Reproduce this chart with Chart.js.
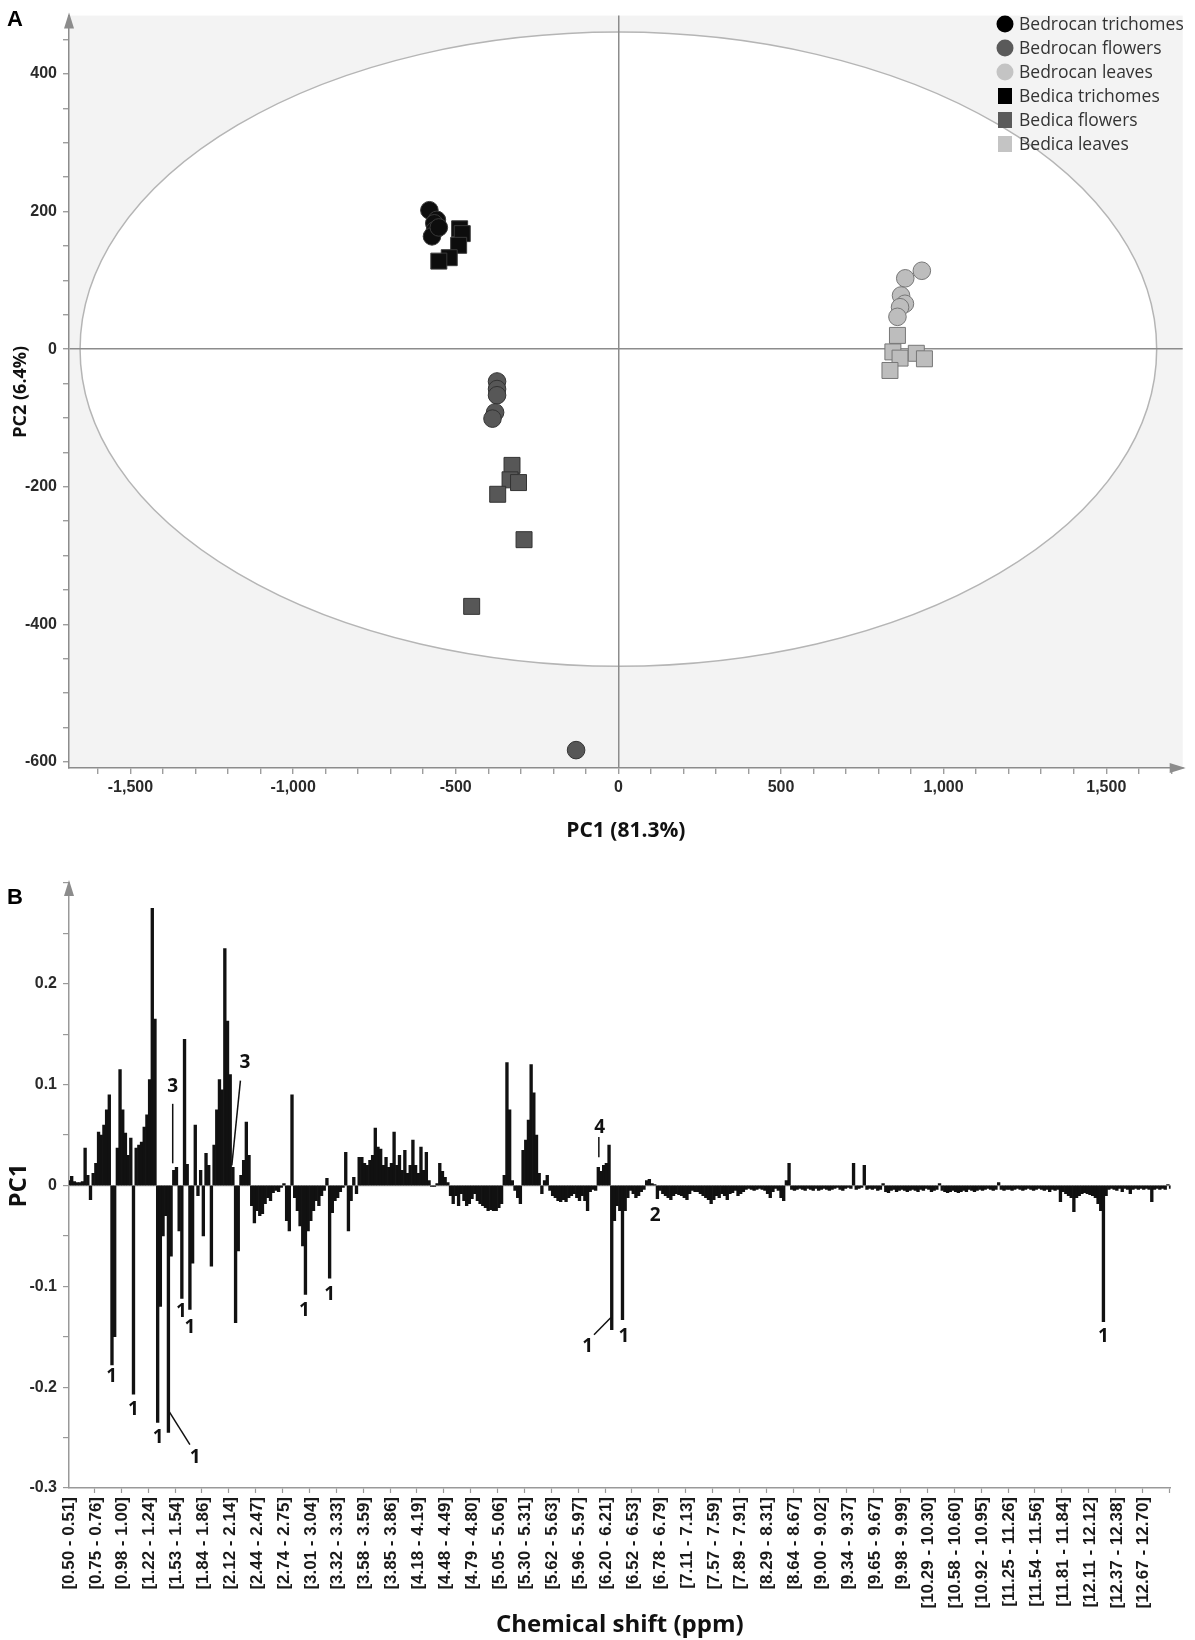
<!DOCTYPE html>
<html lang="en">
<head>
<meta charset="utf-8" />
<title>PCA scores and PC1 loadings</title>
<script src="https://cdn.jsdelivr.net/npm/chart.js@4.4.1/dist/chart.umd.min.js"></script>
<style>
  body { margin: 0; background: #fff; }
  #wrap { position: relative; width: 1195px; height: 1640px; }
  canvas { position: absolute; left: 0; }
  .panel { position: absolute; left: 7px; font: bold 22px "Liberation Sans", Arial, sans-serif; color: #000; }
</style>
</head>
<body>
<div id="wrap">
  <canvas id="scores" width="1195" height="850" style="top:0"></canvas>
  <canvas id="loadings" width="1195" height="790" style="top:850px"></canvas>
  <div class="panel" style="top:6px">A</div>
  <div class="panel" style="top:884px">B</div>
</div>

<script>
// ---------- panel A : scores (PC1, PC2) ----------
const bedrocanTrichomes = [[-581, 202], [-558, 188], [-566, 183], [-564, 173], [-573, 164], [-552, 177]];
const bedrocanFlowers = [[-373, -47], [-373, -58], [-373, -67], [-379, -92], [-387, -101], [-130, -583]];
const bedrocanLeaves = [[933, 114], [882, 103], [869, 78], [881, 66], [866, 61], [858, 47]];
const bedicaTrichomes = [[-488, 175], [-480, 168], [-491, 151], [-520, 133], [-552, 128]];
const bedicaFlowers = [[-327, -169], [-333, -190], [-307, -194], [-371, -211], [-290, -277], [-451, -374]];
const bedicaLeaves = [[858, 20], [844, -4], [866, -13], [835, -31], [916, -6], [941, -14]];
const ellipseRadii = [1655, 461];   // Hotelling T2 ellipse, PC1 / PC2 half axes

// ---------- panel B : PC1 loadings per bucket ----------
const shiftLabels = [
  '[0.50 - 0.51]', '[0.75 - 0.76]', '[0.98 - 1.00]', '[1.22 - 1.24]', '[1.53 - 1.54]',
  '[1.84 - 1.86]', '[2.12 - 2.14]', '[2.44 - 2.47]', '[2.74 - 2.75]', '[3.01 - 3.04]',
  '[3.32 - 3.33]', '[3.58 - 3.59]', '[3.85 - 3.86]', '[4.18 - 4.19]', '[4.48 - 4.49]',
  '[4.79 - 4.80]', '[5.05 - 5.06]', '[5.30 - 5.31]', '[5.62 - 5.63]', '[5.96 - 5.97]',
  '[6.20 - 6.21]', '[6.52 - 6.53]', '[6.78 - 6.79]', '[7.11 - 7.13]', '[7.57 - 7.59]',
  '[7.89 - 7.91]', '[8.29 - 8.31]', '[8.64 - 8.67]', '[9.00 - 9.02]', '[9.34 - 9.37]',
  '[9.65 - 9.67]', '[9.98 - 9.99]', '[10.29 - 10.30]', '[10.58 - 10.60]', '[10.92 - 10.95]',
  '[11.25 - 11.26]', '[11.54 - 11.56]', '[11.81 - 11.84]', '[12.11 - 12.12]', '[12.37 - 12.38]',
  '[12.67 - 12.70]'
];
const binsPerLabel = 10;

const pc1Loadings = [
  0.005, 0.009, 0.004, 0.003, 0.003, 0.004, 0.037, 0.010, -0.014, 0.012,
  0.022, 0.053, 0.050, 0.060, 0.075, 0.090, -0.178, -0.150, 0.037, 0.115,
  0.075, 0.052, 0.030, 0.047, -0.207, 0.037, 0.040, 0.043, 0.058, 0.070,
  0.105, 0.275, 0.165, -0.235, -0.120, -0.050, -0.030, -0.245, -0.070, 0.015,
  0.018, -0.045, -0.112, 0.145, 0.021, -0.123, -0.077, 0.060, -0.010, 0.015,
  -0.050, 0.032, 0.020, -0.080, 0.040, 0.075, 0.105, 0.095, 0.235, 0.163,
  0.110, 0.018, -0.136, -0.065, 0.010, 0.025, 0.063, 0.030, -0.020, -0.037,
  -0.025, -0.030, -0.028, -0.018, -0.012, -0.015, -0.007, -0.005, -0.006, -0.002,
  0.002, -0.035, -0.045, 0.090, -0.012, -0.025, -0.040, -0.060, -0.108, -0.045,
  -0.035, -0.025, -0.015, -0.020, -0.010, -0.005, 0.007, -0.092, -0.027, -0.015,
  -0.012, -0.006, -0.002, 0.033, -0.045, -0.015, 0.008, -0.008, 0.028, 0.028,
  0.022, 0.020, 0.025, 0.030, 0.057, 0.038, 0.036, 0.020, 0.028, 0.018,
  0.022, 0.053, 0.020, 0.030, 0.015, 0.035, 0.012, 0.020, 0.045, 0.020,
  0.012, 0.038, 0.015, 0.033, 0.005, -0.001, -0.001, 0.002, 0.022, 0.014,
  0.008, 0.003, -0.010, -0.018, -0.010, -0.020, -0.008, -0.015, -0.020, -0.018,
  -0.013, -0.008, -0.015, -0.018, -0.020, -0.022, -0.025, -0.024, -0.025, -0.025,
  -0.022, -0.018, 0.010, 0.122, 0.075, 0.005, -0.005, -0.012, -0.018, 0.035,
  0.045, 0.065, 0.120, 0.092, 0.050, 0.012, -0.008, 0.005, 0.010, -0.005,
  -0.010, -0.012, -0.015, -0.016, -0.014, -0.016, -0.012, -0.010, -0.008, -0.012,
  -0.015, -0.010, -0.015, -0.025, -0.006, -0.004, -0.005, 0.018, 0.014, 0.020,
  0.022, 0.040, -0.143, -0.035, -0.020, -0.025, -0.133, -0.025, -0.012, -0.005,
  -0.008, -0.012, -0.010, -0.006, -0.004, 0.005, 0.006, 0.002, 0.001, -0.013,
  -0.005, -0.008, -0.010, -0.012, -0.014, -0.010, -0.008, -0.009, -0.010, -0.012,
  -0.014, -0.008, -0.005, -0.006, -0.006, -0.008, -0.010, -0.012, -0.014, -0.018,
  -0.014, -0.010, -0.012, -0.008, -0.010, -0.014, -0.008, -0.007, -0.005, -0.010,
  -0.008, -0.006, -0.004, -0.003, -0.004, -0.005, -0.004, -0.003, -0.004, -0.005,
  -0.008, -0.012, -0.006, -0.003, -0.005, -0.012, -0.015, 0.005, 0.022, -0.004,
  -0.005, -0.004, -0.003, -0.004, -0.005, -0.003, -0.004, -0.005, -0.003, -0.005,
  -0.004, -0.003, -0.004, -0.005, -0.004, -0.003, -0.002, -0.004, -0.005, -0.003,
  -0.002, -0.003, 0.022, -0.004, -0.003, -0.002, 0.020, -0.004, -0.003, -0.004,
  -0.003, -0.005, -0.004, 0.002, -0.006, -0.007, -0.005, -0.004, -0.006, -0.005,
  -0.004, -0.005, -0.006, -0.005, -0.004, -0.005, -0.006, -0.004, -0.005, -0.003,
  -0.004, -0.006, -0.005, -0.004, 0.002, -0.005, -0.006, -0.007, -0.006, -0.005,
  -0.006, -0.007, -0.006, -0.005, -0.006, -0.004, -0.005, -0.006, -0.005, -0.004,
  -0.005, -0.004, -0.003, -0.004, -0.005, -0.004, 0.003, -0.004, -0.005, -0.004,
  -0.004, -0.005, -0.004, -0.003, -0.004, -0.005, -0.004, -0.003, -0.004, -0.005,
  -0.004, -0.003, -0.004, -0.005, -0.004, -0.006, -0.004, -0.005, -0.004, -0.016,
  -0.006, -0.008, -0.010, -0.012, -0.026, -0.012, -0.010, -0.008, -0.007, -0.008,
  -0.009, -0.010, -0.012, -0.018, -0.025, -0.135, -0.010, -0.004, -0.003, -0.004,
  -0.005, -0.003, -0.006, -0.003, -0.004, -0.008, -0.004, -0.003, -0.004, -0.003,
  -0.004, -0.003, -0.004, -0.016, -0.004, -0.003, -0.004, -0.003, -0.004, 0.001,
  -0.003
];

// peak annotations: [text, bucket index, PC1 value]
const peakMarks = [
  ['1', 15.9, -0.19], ['1', 24, -0.222], ['1', 33.2, -0.25], ['1', 47, -0.27],
  ['1', 41.8, -0.125], ['1', 45, -0.141], ['1', 87.6, -0.124], ['1', 97, -0.108],
  ['1', 193, -0.16], ['1', 206.5, -0.15], ['1', 385, -0.15],
  ['2', 218.2, -0.03], ['3', 38.6, 0.098], ['3', 65.5, 0.122], ['4', 197.5, 0.057]
];
// leader lines: [from bucket, from value, to bucket, to value]
const leaderLines = [
  [37, -0.223, 45, -0.257], [201.7, -0.131, 195.4, -0.148],
  [38.6, 0.081, 38.6, 0.022], [63.8, 0.104, 60.6, 0.02], [197.2, 0.048, 197.2, 0.028]
];

const axisGray = '#8c8c8c';
const tickFont = '"Liberation Sans", Arial, sans-serif';
const titleFont = '"Open Sans", "Liberation Sans", sans-serif';
const clear = 'rgba(0,0,0,0)';

// put a tick on every multiple of step inside the scale range
const stepTicks = step => scale => {
  const out = [];
  for (let v = Math.ceil(scale.min / step) * step; v <= scale.max + 1e-9; v += step) {
    out.push({ value: Math.round(v * 1000) / 1000 });
  }
  scale.ticks = out;
};

const arrowPlugin = {
  id: 'axisArrows',
  afterDraw(chart, args, opts) {
    const { ctx, chartArea: a } = chart;
    ctx.save();
    ctx.fillStyle = axisGray;
    if (opts.up) {
      ctx.beginPath();
      ctx.moveTo(a.left, a.top - 3);
      ctx.lineTo(a.left - 5, a.top + 13);
      ctx.lineTo(a.left + 5, a.top + 13);
      ctx.closePath();
      ctx.fill();
    }
    if (opts.right) {
      ctx.beginPath();
      ctx.moveTo(a.right + 3, a.bottom);
      ctx.lineTo(a.right - 13, a.bottom - 5);
      ctx.lineTo(a.right - 13, a.bottom + 5);
      ctx.closePath();
      ctx.fill();
    }
    ctx.restore();
  }
};

const backdropPlugin = {
  id: 'scoreBackdrop',
  beforeDraw(chart) {
    const { ctx, chartArea: a, scales: { x, y } } = chart;
    ctx.save();
    ctx.fillStyle = '#f3f3f3';
    ctx.fillRect(a.left, a.top, a.right - a.left, a.bottom - a.top);
    const cx = x.getPixelForValue(0), cy = y.getPixelForValue(0);
    const rx = x.getPixelForValue(ellipseRadii[0]) - cx;
    const ry = cy - y.getPixelForValue(ellipseRadii[1]);
    ctx.beginPath();
    ctx.ellipse(cx, cy, rx, ry, 0, 0, Math.PI * 2);
    ctx.fillStyle = '#fff';
    ctx.fill();
    ctx.strokeStyle = '#b5b5b5';
    ctx.lineWidth = 1.5;
    ctx.stroke();
    ctx.restore();
  }
};

const legendPlugin = {
  id: 'cornerLegend',
  afterDatasetsDraw(chart, args, opts) {
    const { ctx } = chart;
    ctx.save();
    ctx.font = '17.5px ' + titleFont;
    ctx.textBaseline = 'middle';
    chart.data.datasets.forEach((ds, i) => {
      const y = opts.top + i * opts.row;
      ctx.fillStyle = ds.keyColor;
      if (ds.pointStyle === 'circle') {
        ctx.beginPath();
        ctx.arc(opts.x, y, 8.5, 0, Math.PI * 2);
        ctx.fill();
      } else {
        ctx.fillRect(opts.x - 7, y - 8, 14, 16);
      }
      ctx.fillStyle = '#333';
      ctx.fillText(ds.label, opts.x + 14, y + 1);
    });
    ctx.restore();
  }
};

const toXY = arr => arr.map(p => ({ x: p[0], y: p[1] }));
function group(label, pts, style, fill, edge, key) {
  return {
    label, data: toXY(pts), pointStyle: style,
    pointRadius: style === 'circle' ? 8.8 : 11.3,
    backgroundColor: fill, borderColor: edge, borderWidth: 1, keyColor: key
  };
}

new Chart(document.getElementById('scores'), {
  type: 'scatter',
  data: {
    datasets: [
      group('Bedrocan trichomes', bedrocanTrichomes, 'circle', '#0d0d0d', '#3a3a3a', '#000'),
      group('Bedrocan flowers', bedrocanFlowers, 'circle', '#575757', '#333', '#5a5a5a'),
      group('Bedrocan leaves', bedrocanLeaves, 'circle', '#bdbdbd', '#777', '#c4c4c4'),
      group('Bedica trichomes', bedicaTrichomes, 'rect', '#0d0d0d', '#3a3a3a', '#000'),
      group('Bedica flowers', bedicaFlowers, 'rect', '#575757', '#333', '#5a5a5a'),
      group('Bedica leaves', bedicaLeaves, 'rect', '#bdbdbd', '#777', '#c4c4c4')
    ]
  },
  options: {
    responsive: false,
    animation: false,
    events: [],
    layout: { padding: { top: 10, right: 8, left: 0, bottom: 0 } },
    plugins: {
      legend: { display: false },
      tooltip: { enabled: false },
      axisArrows: { up: true, right: true },
      cornerLegend: { x: 1005, top: 24, row: 24 }
    },
    scales: {
      x: {
        type: 'linear', min: -1689, max: 1735,
        afterBuildTicks: stepTicks(100),
        ticks: {
          autoSkip: false, maxRotation: 0, padding: 4, color: '#2a2a2a',
          font: { family: tickFont, size: 16, weight: 'bold' },
          callback: v => (v % 500 === 0 ? v.toLocaleString('en-US') : '')
        },
        grid: {
          color: c => (c.tick && c.tick.value === 0 ? axisGray : clear),
          lineWidth: 1.5,
          tickColor: axisGray,
          tickLength: 6, tickWidth: 1.2
        },
        border: { color: axisGray, width: 1.5 },
        title: {
          display: true, text: 'PC1 (81.3%)', color: '#111',
          font: { family: titleFont, size: 21, weight: 'bold' },
          padding: { top: 4, bottom: 6 }
        },
        afterFit: s => { s.height = 82; }
      },
      y: {
        type: 'linear', min: -609, max: 485,
        afterBuildTicks: stepTicks(50),
        ticks: {
          autoSkip: false, padding: 6, color: '#2a2a2a',
          font: { family: tickFont, size: 16, weight: 'bold' },
          callback: v => (v % 200 === 0 ? v.toLocaleString('en-US') : '')
        },
        grid: {
          color: c => (c.tick && c.tick.value === 0 ? axisGray : clear),
          lineWidth: 1.5,
          tickColor: axisGray,
          tickLength: 6, tickWidth: 1.2
        },
        border: { color: axisGray, width: 1.5 },
        title: {
          display: true, text: 'PC2 (6.4%)', color: '#111',
          font: { family: titleFont, size: 18, weight: 'bold' },
          padding: { top: 10, bottom: 0 }
        },
        afterFit: s => { s.width = 69; }
      }
    }
  },
  plugins: [backdropPlugin, arrowPlugin, legendPlugin]
});

// ---------- panel B ----------
const binLabels = pc1Loadings.map((v, i) =>
  i % binsPerLabel === 0 && shiftLabels[i / binsPerLabel] ? shiftLabels[i / binsPerLabel] : '');

const peakPlugin = {
  id: 'peakMarks',
  afterDatasetsDraw(chart) {
    const { ctx, scales: { x, y } } = chart;
    ctx.save();
    ctx.strokeStyle = '#111';
    ctx.lineWidth = 1.5;
    leaderLines.forEach(l => {
      ctx.beginPath();
      ctx.moveTo(x.getPixelForValue(l[0]), y.getPixelForValue(l[1]));
      ctx.lineTo(x.getPixelForValue(l[2]), y.getPixelForValue(l[3]));
      ctx.stroke();
    });
    ctx.fillStyle = '#111';
    ctx.font = 'bold 19px ' + titleFont;
    ctx.textAlign = 'center';
    ctx.textBaseline = 'middle';
    peakMarks.forEach(m => ctx.fillText(m[0], x.getPixelForValue(m[1]), y.getPixelForValue(m[2])));
    ctx.restore();
  }
};

new Chart(document.getElementById('loadings'), {
  type: 'bar',
  data: {
    labels: binLabels,
    datasets: [{
      label: 'PC1',
      data: pc1Loadings,
      backgroundColor: '#111',
      borderWidth: 0,
      barPercentage: 1,
      categoryPercentage: 1
    }]
  },
  options: {
    responsive: false,
    animation: false,
    events: [],
    layout: { padding: { top: 33, right: 3, left: 0, bottom: 0 } },
    plugins: {
      legend: { display: false },
      tooltip: { enabled: false },
      axisArrows: { up: true, right: false }
    },
    scales: {
      x: {
        type: 'category', offset: false,
        ticks: {
          autoSkip: false, minRotation: 90, maxRotation: 90, padding: 4, color: '#1a1a1a',
          font: { family: tickFont, size: 17, weight: 'bold' }
        },
        grid: {
          drawOnChartArea: false,
          tickColor: c => (c.index % binsPerLabel === 0 ? '#999' : clear),
          tickLength: 5, tickWidth: 1.2
        },
        border: { color: '#999', width: 1.5 },
        title: {
          display: true, text: 'Chemical shift (ppm)', color: '#111',
          font: { family: titleFont, size: 24, weight: 'bold' },
          padding: { top: 4, bottom: 0 }
        },
        afterFit: s => { s.height = 152; }
      },
      y: {
        type: 'linear', min: -0.3, max: 0.3,
        ticks: {
          stepSize: 0.05, autoSkip: false, padding: 6, color: '#2a2a2a',
          font: { family: tickFont, size: 16, weight: 'bold' },
          callback: v => {
            const c = Math.round(v * 100);
            if (c % 10 !== 0 || c > 25) return '';
            return String(c / 100);
          }
        },
        grid: {
          color: c => (c.tick && Math.abs(c.tick.value) < 1e-9 ? '#999' : clear),
          lineWidth: 1.2,
          tickColor: '#999', tickLength: 6, tickWidth: 1.2
        },
        border: { color: '#999', width: 1.5 },
        title: {
          display: true, text: 'PC1', color: '#111',
          font: { family: titleFont, size: 24, weight: 'bold' },
          padding: { top: 5, bottom: 0 }
        },
        afterFit: s => { s.width = 69; }
      }
    }
  },
  plugins: [arrowPlugin, peakPlugin]
});
</script>
</body>
</html>
